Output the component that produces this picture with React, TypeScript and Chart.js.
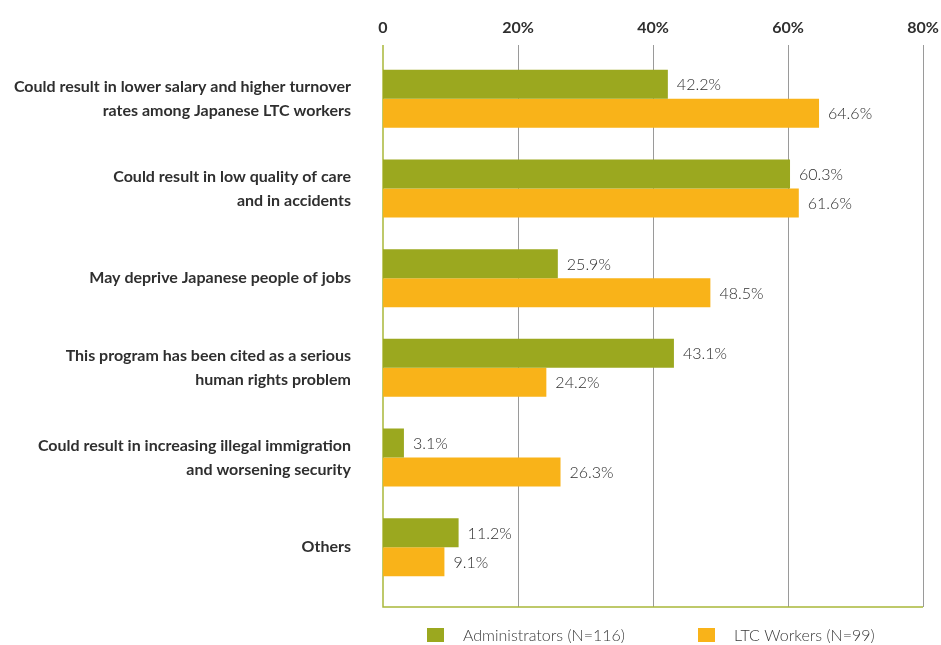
import React, { useEffect, useRef } from "react";
import { Chart, registerables } from "chart.js";

Chart.register(...registerables);

const categories: (string | string[])[] = [
  ["Could result in lower salary and higher turnover", "rates among Japanese LTC workers"],
  ["Could result in low quality of care", "and in accidents"],
  "May deprive Japanese people of jobs",
  ["This program has been cited as a serious", "human rights problem"],
  ["Could result in increasing illegal immigration", "and worsening security"],
  "Others",
];
const adminValues = [42.2, 60.3, 25.9, 43.1, 3.1, 11.2];
const workerValues = [64.6, 61.6, 48.5, 24.2, 26.3, 9.1];
const seriesLabels = ["Administrators (N=116)", "LTC Workers (N=99)"];
const xTicks = [0, 20, 40, 60, 80];

const OLIVE = "#9ba81f";
const ORANGE = "#f9b319";
const AXIS = "#a9b83a";
const GRID = "#9a9a9a";
const TEXT = "#2f2f2f";

const framePlugin = {
  id: "frame",
  beforeDatasetsDraw(chart: any) {
    const { ctx, chartArea, scales } = chart;
    const x = scales.x;
    const top = chartArea.top - 9;
    const bottom = chartArea.bottom + 15;
    ctx.save();
    ctx.strokeStyle = GRID;
    ctx.lineWidth = 1;
    xTicks.forEach((t) => {
      if (t === 0) return;
      const px = Math.round(x.getPixelForValue(t)) + 0.5;
      ctx.beginPath();
      ctx.moveTo(px, top);
      ctx.lineTo(px, bottom);
      ctx.stroke();
    });
    ctx.strokeStyle = AXIS;
    ctx.lineWidth = 1.5;
    const x0 = x.getPixelForValue(0);
    ctx.beginPath();
    ctx.moveTo(x0, top);
    ctx.lineTo(x0, bottom);
    ctx.lineTo(x.getPixelForValue(80), bottom);
    ctx.stroke();
    ctx.restore();
  },
  afterDatasetsDraw(chart: any) {
    const { ctx } = chart;
    ctx.save();
    ctx.font = "300 16px Lato";
    ctx.fillStyle = TEXT;
    ctx.textBaseline = "middle";
    ctx.textAlign = "left";
    chart.data.datasets.forEach((ds: any, i: number) => {
      const meta = chart.getDatasetMeta(i);
      meta.data.forEach((bar: any, j: number) => {
        ctx.fillText(ds.data[j].toFixed(1) + "%", bar.x + 9, bar.y + 1);
      });
    });
    // legend
    const items = [
      { x: 427, color: OLIVE, label: seriesLabels[0] },
      { x: 698, color: ORANGE, label: seriesLabels[1] },
    ];
    const cy = 635;
    items.forEach((it) => {
      ctx.fillStyle = it.color;
      ctx.fillRect(it.x, cy - 7, 17, 14);
      ctx.fillStyle = "#3a3a3a";
      ctx.fillText(it.label, it.x + 36, cy + 1);
    });
    ctx.restore();
  },
};

export default function App() {
  const ref = useRef<HTMLCanvasElement | null>(null);
  useEffect(() => {
    const chart = new Chart(ref.current as HTMLCanvasElement, {
      type: "bar",
      data: {
        labels: categories,
        datasets: [
          { label: seriesLabels[0], data: adminValues, backgroundColor: OLIVE },
          { label: seriesLabels[1], data: workerValues, backgroundColor: ORANGE },
        ],
      },
      options: {
        indexAxis: "y",
        animation: false,
        responsive: false,
        maintainAspectRatio: false,
        layout: { padding: { left: 0, right: 18, top: 0, bottom: 53 } },
        datasets: { bar: { categoryPercentage: 0.647, barPercentage: 1 } },
        plugins: { legend: { display: false }, tooltip: { enabled: false } },
        scales: {
          x: {
            position: "top",
            min: 0,
            max: 80,
            ticks: {
              stepSize: 20,
              padding: 17,
              color: TEXT,
              font: { family: "Lato", size: 16, weight: "bold" },
              callback: (v: any) => (v === 0 ? "0" : v + "%"),
            },
            grid: { display: false, drawTicks: false },
            border: { display: false },
            afterFit: (s: any) => {
              s.height = 54;
              s.paddingLeft = 0;
              s.paddingRight = 0;
            },
          },
          y: {
            ticks: {
              padding: 32,
              color: TEXT,
              font: { family: "Lato", size: 16, weight: "bold", lineHeight: 1.5 },
            },
            grid: { display: false, drawTicks: false },
            border: { display: false },
            afterFit: (s: any) => {
              s.width = 383;
              s.paddingTop = 0;
              s.paddingBottom = 0;
            },
          },
        },
      },
      plugins: [framePlugin],
    } as any);
    return () => chart.destroy();
  }, []);
  return (
    <div style={{ position: "fixed", left: 0, top: 0, width: 941, height: 645, background: "#fff" }}>
      <canvas ref={ref} width={941} height={645} style={{ display: "block" }} />
    </div>
  );
}
